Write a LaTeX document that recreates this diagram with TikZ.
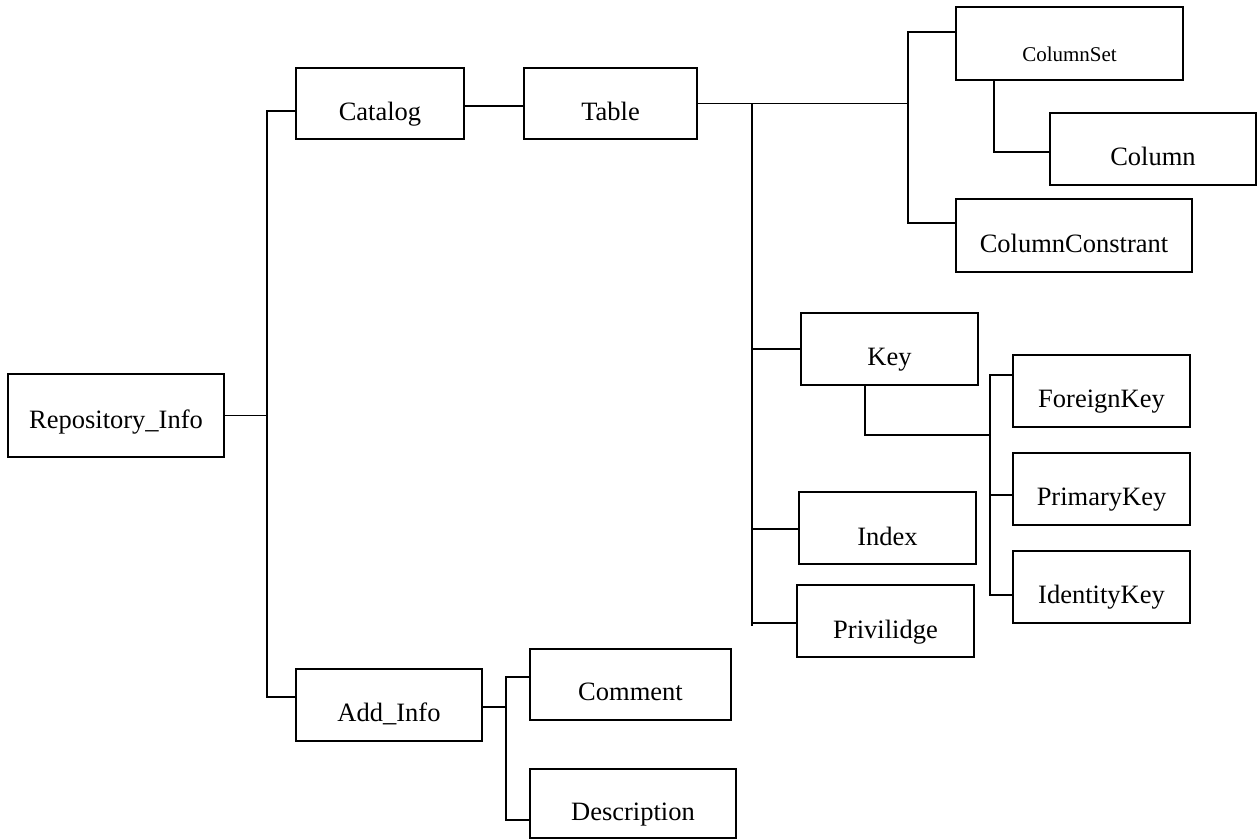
\documentclass[tikz,border=0pt]{standalone}
\usepackage{fontspec}
\setmainfont{Liberation Serif}
\begin{document}
\begin{tikzpicture}[x=1pt,y=-1pt,
  box/.style={draw, line width=1.8pt, inner sep=0pt,
    font=\fontsize{26.5}{30}\selectfont,
    text height=52pt, text depth=20pt, minimum height=72pt},
  wire/.style={line width=1.8pt},
]
\useasboundingbox (0,0) rectangle (1260,839);

% boxes
\node[box, minimum width=216pt, minimum height=83pt, text height=54pt, text depth=29pt] (repo) at (116,415.5) {Repository\_Info};
\node[box, minimum width=168pt, minimum height=71pt, text depth=19pt] (catalog) at (380,103.5) {Catalog};
\node[box, minimum width=173pt, minimum height=71pt, text depth=19pt] (table) at (610.5,103.5) {Table};
\node[box, minimum width=227pt, minimum height=73pt, text height=54pt, text depth=19pt, font=\fontsize{21}{24}\selectfont] (colset) at (1069.5,43.5) {ColumnSet};
\node[box, minimum width=206pt] (column) at (1153,149) {Column};
\node[box, minimum width=236pt, minimum height=73pt, text height=53pt] (colcon) at (1074,235.5) {ColumnConstrant};
\node[box, minimum width=177pt] (key) at (889.5,349) {Key};
\node[box, minimum width=177pt] (fkey) at (1101.5,391) {ForeignKey};
\node[box, minimum width=177pt] (pkey) at (1101.5,489) {PrimaryKey};
\node[box, minimum width=177pt] (ikey) at (1101.5,587) {IdentityKey};
\node[box, minimum width=177pt, text height=53pt, text depth=19pt] (index) at (887.5,528) {Index};
\node[box, minimum width=177pt, text height=53pt, text depth=19pt] (priv) at (885.5,621) {Privilidge};
\node[box, minimum width=186pt] (addinfo) at (389,705) {Add\_Info};
\node[box, minimum width=201pt, minimum height=71pt, text height=51pt] (comment) at (630.5,684.5) {Comment};
\node[box, minimum width=206pt, minimum height=69pt, text height=51pt, text depth=18pt] (desc) at (633,803.5) {Description};

% bus junctions
\coordinate (trunk) at (267,415.5);
\coordinate (cbus) at (908,103.5);
\coordinate (tbus) at (752,103.5);
\coordinate (tbusend) at (752,626);
\coordinate (kbus) at (990,435);
\coordinate (abus) at (506,707);

% root to catalog and add_info
\draw[wire] (repo.east) -- (trunk);
\draw[wire] ([yshift=-7.5pt]catalog.west) -| (trunk) |- ([yshift=8pt]addinfo.west);

% catalog to table
\draw[wire] ([yshift=-2.5pt]catalog.east) -- ([yshift=-2.5pt]table.west);

% table to column set / column constraint
\draw[wire] (table.east) -- (cbus);
\draw[wire] ([yshift=11.5pt]colset.west) -| (cbus) |- ([yshift=12.5pt]colcon.west);
\draw[wire] ([xshift=-75.5pt]colset.south) |- ([yshift=-3pt]column.west);

% table to key, index, privilege
\draw[wire] (tbus) -- (tbusend);
\draw[wire] (key.west) -- (key.west -| tbus);
\draw[wire] ([yshift=-1pt]index.west) -- ([yshift=-1pt]index.west -| tbus);
\draw[wire] ([yshift=-2pt]priv.west) -- ([yshift=-2pt]priv.west -| tbus);

% key to its kinds
\draw[wire] ([xshift=-24.5pt]key.south) |- (kbus);
\draw[wire] ([yshift=16pt]fkey.west) -| (kbus) |- ([yshift=-8pt]ikey.west);
\draw[wire] ([yshift=-6pt]pkey.west) -- ([yshift=-6pt]pkey.west -| kbus);

% additional info
\draw[wire] ([yshift=-2pt]addinfo.east) -- (abus);
\draw[wire] ([yshift=7.5pt]comment.west) -| (abus) |- ([yshift=-16.5pt]desc.west);
\end{tikzpicture}
\end{document}
